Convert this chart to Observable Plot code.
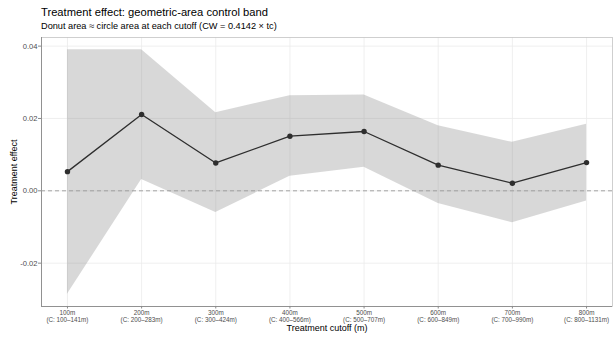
<!DOCTYPE html>
<html>
<head>
<meta charset="utf-8">
<script src="https://cdn.jsdelivr.net/npm/d3@7"></script>
<script src="https://cdn.jsdelivr.net/npm/@observablehq/plot@0.6"></script>
<style>
  html, body { margin: 0; padding: 0; background: #fff; }
  #wrap { position: relative; width: 613px; height: 337px; font-family: "Liberation Sans", Arial, sans-serif; }
  #title { position: absolute; left: 41px; top: 6px; font-size: 11.2px; line-height: 13px; color: #000; white-space: nowrap; }
  #subtitle { position: absolute; left: 41px; top: 21px; font-size: 9.2px; line-height: 11px; color: #000; white-space: nowrap; }
  #chart { position: absolute; left: 0; top: 0; }
</style>
</head>
<body>
<div id="wrap">
  <div id="chart"></div>
  <div id="title">Treatment effect: geometric-area control band</div>
  <div id="subtitle">Donut area ≈ circle area at each cutoff (CW = 0.4142 × tc)</div>
</div>
<script>
const cutoffs = [100, 200, 300, 400, 500, 600, 700, 800];
const cutoffLabels = ["100m", "200m", "300m", "400m", "500m", "600m", "700m", "800m"];
const controlLabels = ["(C: 100–141m)", "(C: 200–283m)", "(C: 300–424m)", "(C: 400–566m)", "(C: 500–707m)", "(C: 600–849m)", "(C: 700–990m)", "(C: 800–1131m)"];
const estimates = [0.0053, 0.0211, 0.0077, 0.0151, 0.0164, 0.0071, 0.0021, 0.0078];
const upper = [0.0390, 0.0390, 0.0216, 0.0263, 0.0265, 0.0180, 0.0134, 0.0184];
const lower = [-0.0286, 0.0031, -0.0060, 0.0040, 0.0065, -0.0035, -0.0088, -0.0028];
const yTicks = [-0.02, 0.00, 0.02, 0.04];
const xTitle = "Treatment cutoff (m)";
const yTitle = "Treatment effect";

const data = cutoffs.map((c, i) => ({cutoff: c, est: estimates[i], lo: lower[i], hi: upper[i]}));

const xPad = (d3.max(cutoffs) - d3.min(cutoffs)) * 0.05;
const xDomain = [d3.min(cutoffs) - xPad, d3.max(cutoffs) + xPad];
const yMin = d3.min(lower), yMax = d3.max(upper);
const yPad = (yMax - yMin) * 0.05;
const yDomain = [yMin - yPad, yMax + yPad];

const labelFor = v => {
  const i = cutoffs.indexOf(v);
  return cutoffLabels[i] + "\n" + controlLabels[i];
};

const chart = Plot.plot({
  width: 613,
  height: 337,
  marginTop: 37,
  marginBottom: 31,
  marginLeft: 41,
  marginRight: 1,
  style: {fontFamily: "Liberation Sans, Arial, sans-serif", background: "#fff"},
  x: {domain: xDomain, axis: null},
  y: {domain: yDomain, axis: null},
  marks: [
    Plot.gridX(cutoffs, {stroke: "#ebebeb", strokeOpacity: 1, strokeWidth: 0.8}),
    Plot.gridY(yTicks, {stroke: "#ebebeb", strokeOpacity: 1, strokeWidth: 0.8}),
    Plot.frame({stroke: "#c4c4c4", strokeWidth: 0.8}),
    Plot.ruleX([xDomain[0]], {stroke: "#8a8a8a", strokeWidth: 0.9}),
    Plot.ruleY([yDomain[0]], {stroke: "#8a8a8a", strokeWidth: 0.9}),
    Plot.areaY(data, {x: "cutoff", y1: "lo", y2: "hi", fill: "#808080", fillOpacity: 0.31}),
    Plot.ruleY([0], {stroke: "#9a9a9a", strokeWidth: 0.9, strokeDasharray: "4,3"}),
    Plot.line(data, {x: "cutoff", y: "est", stroke: "#2e2e2e", strokeWidth: 1.3}),
    Plot.dot(data, {x: "cutoff", y: "est", r: 2.7, fill: "#2e2e2e", stroke: "none"}),
    Plot.axisY(yTicks, {
      tickFormat: v => v.toFixed(2), tickSize: 3, tickPadding: 1, fontSize: 7.6,
      stroke: "#8a8a8a", fill: "#4d4d4d", label: null
    }),
    Plot.axisX(cutoffs, {
      tickFormat: labelFor, tickSize: 2.5, tickPadding: 1.5, fontSize: 6.3, lineHeight: 1.03,
      stroke: "#8a8a8a", fill: "#4d4d4d", label: null
    }),
    Plot.text([xTitle], {frameAnchor: "bottom", dy: 22, lineAnchor: "middle", fontSize: 9, fill: "#000"}),
    Plot.text([yTitle], {frameAnchor: "left", dx: -27, rotate: -90, textAnchor: "middle", lineAnchor: "middle", fontSize: 9, fill: "#000"})
  ]
});
document.getElementById("chart").appendChild(chart);
</script>
</body>
</html>
